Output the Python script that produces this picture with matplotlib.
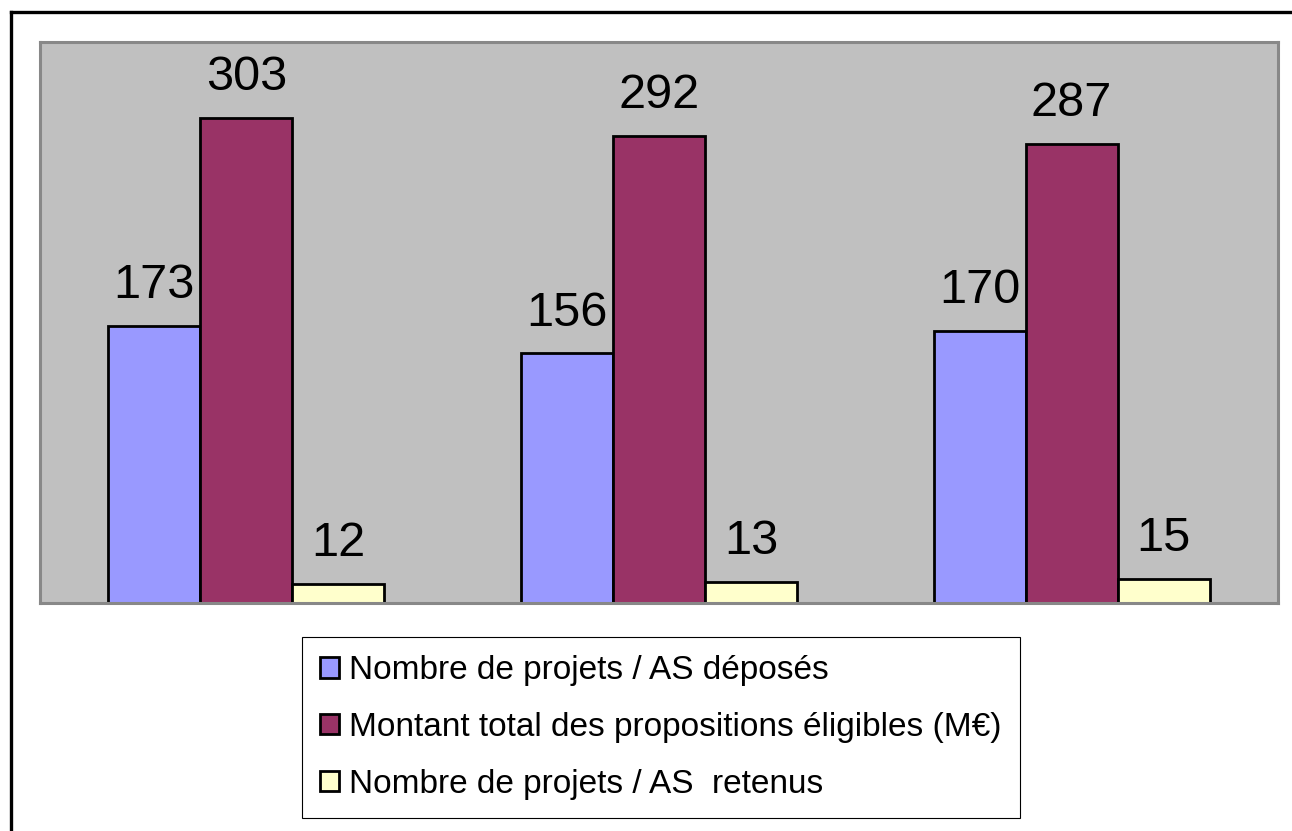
import matplotlib.pyplot as plt
import numpy as np
from matplotlib.lines import Line2D

plt.rcParams['font.family'] = ['Liberation Sans', 'DejaVu Sans']

# ------------------------
# Data
# ------------------------
groups = ["1", "2", "3"]
series_names = [
    "Nombre de projets / AS déposés",
    "Montant total des propositions éligibles (M€)",
    "Nombre de projets / AS  retenus",
]
deposes = [173, 156, 170]
montant = [303, 292, 287]
retenus = [12, 13, 15]
colors = ["#9999FF", "#993366", "#FFFFCC"]

W, H = 1292, 831
fig = plt.figure(figsize=(W / 100, H / 100), dpi=100)

# plot area in pixel coords of the reference
ax = fig.add_axes([40 / W, 1 - 603 / H, (1278 - 40) / W, (603 - 42) / H])
ax.set_facecolor("#C0C0C0")
for sp in ax.spines.values():
    sp.set_color("#888888")
    sp.set_linewidth(2.2)

x = np.arange(len(groups))
width = 0.223
values = [deposes, montant, retenus]
handles = []
for k, (vals, col) in enumerate(zip(values, colors)):
    bars = ax.bar(x + (k - 1) * width, vals, width, color=col,
                  edgecolor="black", linewidth=2.0, label=series_names[k])
    handles.append(bars)
    for b, v in zip(bars, vals):
        ax.annotate(str(v), (b.get_x() + b.get_width() / 2, b.get_height()),
                    xytext=(0, 20), textcoords="offset points",
                    ha="center", va="baseline", fontsize=35)

ax.set_xlim(-0.5, 2.5)
ax.set_ylim(0, 350.5)
ax.set_xticks([])
ax.set_yticks([])

# ------------------------
# Legend
# ------------------------
leg = fig.legend(handles=handles, labels=series_names, loc="upper left",
                 bbox_to_anchor=(302 / W, 1 - 637 / H), borderaxespad=0,
                 fontsize=24, frameon=True, fancybox=False, edgecolor="black",
                 framealpha=1, borderpad=0.55, labelspacing=0.77,
                 handlelength=0.55, handleheight=0.55, handletextpad=0.3)
leg.get_frame().set_linewidth(0.8)

# outer frame (left and top edges visible in the reference)
fig.add_artist(Line2D([11 / W, 11 / W], [0, 1 - 12 / H], color="black", lw=2.4))
fig.add_artist(Line2D([11 / W, 1], [1 - 12 / H, 1 - 12 / H], color="black", lw=2.4))

fig.savefig("out.png", dpi=100)
